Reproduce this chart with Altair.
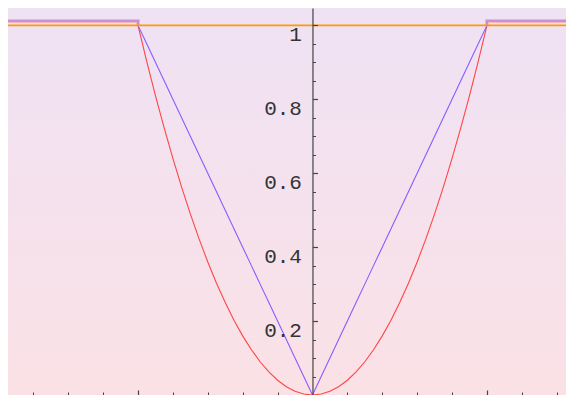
import altair as alt
import pandas as pd

# ---- data ----
x_domain = [-1.745, 1.453]
y_domain = [0.0, 1.047]

curve_x = [-1.0, -0.95, -0.9, -0.85, -0.8, -0.75, -0.7, -0.65, -0.6, -0.55, -0.5,
           -0.45, -0.4, -0.35, -0.3, -0.25, -0.2, -0.15, -0.1, -0.05, 0.0,
           0.05, 0.1, 0.15, 0.2, 0.25, 0.3, 0.35, 0.4, 0.45, 0.5,
           0.55, 0.6, 0.65, 0.7, 0.75, 0.8, 0.85, 0.9, 0.95, 1.0]
red_y = [1.0, 0.9025, 0.81, 0.7225, 0.64, 0.5625, 0.49, 0.4225, 0.36, 0.3025, 0.25,
         0.2025, 0.16, 0.1225, 0.09, 0.0625, 0.04, 0.0225, 0.01, 0.0025, 0.0,
         0.0025, 0.01, 0.0225, 0.04, 0.0625, 0.09, 0.1225, 0.16, 0.2025, 0.25,
         0.3025, 0.36, 0.4225, 0.49, 0.5625, 0.64, 0.7225, 0.81, 0.9025, 1.0]
blue_y = [1.0, 0.95, 0.9, 0.85, 0.8, 0.75, 0.7, 0.65, 0.6, 0.55, 0.5,
          0.45, 0.4, 0.35, 0.3, 0.25, 0.2, 0.15, 0.1, 0.05, 0.0,
          0.05, 0.1, 0.15, 0.2, 0.25, 0.3, 0.35, 0.4, 0.45, 0.5,
          0.55, 0.6, 0.65, 0.7, 0.75, 0.8, 0.85, 0.9, 0.95, 1.0]
plateau_left_x = [-1.745, -1.0, -1.0]
plateau_right_x = [1.0, 1.0, 1.453]
plateau_left_y = [1.012, 1.012, 1.0]
plateau_right_y = [1.0, 1.012, 1.012]
orange_x = [-1.745, 1.453]
orange_y = [1.0, 1.0]

x_major_ticks = [-1.0, 1.0]
x_minor_ticks = [-1.6, -1.4, -1.2, -0.8, -0.6, -0.4, -0.2, 0.2, 0.4, 0.6, 0.8, 1.2, 1.4]
y_major_ticks = [0.2, 0.4, 0.6, 0.8, 1.0]
y_minor_ticks = [0.05, 0.1, 0.15, 0.25, 0.3, 0.35, 0.45, 0.5, 0.55, 0.65, 0.7, 0.75,
                 0.85, 0.9, 0.95]

W, H = 558, 387
axis_color = "#444444"
y_axis_offset = -(W * (x_domain[1] - 0) / (x_domain[1] - x_domain[0]))

curves = pd.DataFrame({"x": curve_x, "red": red_y, "blue": blue_y})
plat = pd.DataFrame({
    "x": plateau_left_x + plateau_right_x,
    "y": plateau_left_y + plateau_right_y,
    "side": ["L"] * 3 + ["R"] * 3,
    "o": list(range(6)),
})
orange = pd.DataFrame({"x": orange_x, "y": orange_y})
bg = pd.DataFrame({"x": [x_domain[0]], "x2": [x_domain[1]], "y": [y_domain[0]], "y2": [y_domain[1]]})

xs = alt.Scale(domain=x_domain, nice=False, zero=False)
ys = alt.Scale(domain=y_domain, nice=False, zero=False)

grad = alt.Gradient(
    gradient="linear",
    stops=[alt.GradientStop(color="#EFE2F4", offset=0),
           alt.GradientStop(color="#FBE1E6", offset=1)],
    x1=0, x2=0, y1=0, y2=1,
)

background = alt.Chart(bg).mark_rect(color=grad).encode(
    x=alt.X("x:Q", scale=xs, axis=alt.Axis(
        orient="top", offset=-H, values=x_major_ticks, tickSize=5, labels=False,
        title=None, grid=False, domainColor=axis_color, tickColor=axis_color,
        domainWidth=1.2, tickWidth=1.2, zindex=2)),
    x2="x2:Q",
    y=alt.Y("y:Q", scale=ys, axis=alt.Axis(
        orient="right", offset=y_axis_offset,
        values=y_major_ticks, tickSize=5, title=None, grid=False,
        domainColor=axis_color, tickColor=axis_color, domainWidth=1.2, tickWidth=1.2,
        labelAlign="right", labelBaseline="top", labelPadding=-16, labelOffset=-2,
        labelFont="Liberation Mono", labelFontSize=21, labelColor="#333333",
        labelExpr="datum.value == 1 ? '1' : format(datum.value, '.1f')", zindex=2)),
    y2="y2:Q",
)

minor_axes = alt.Chart(orange).mark_line(color="#FF9900", strokeWidth=1.6).encode(
    x=alt.X("x:Q", scale=xs, axis=alt.Axis(
        orient="top", offset=-H, values=x_minor_ticks, tickSize=3, labels=False,
        domain=False, title=None, grid=False, tickColor=axis_color, tickWidth=1,
        zindex=2)),
    y=alt.Y("y:Q", scale=ys, axis=alt.Axis(
        orient="right", offset=y_axis_offset,
        values=y_minor_ticks, tickSize=3, labels=False, domain=False, title=None,
        grid=False, tickColor=axis_color, tickWidth=1, zindex=2)),
)

red_plat = alt.Chart(plat).mark_line(color="#FF6060", strokeWidth=4, opacity=0.35).encode(
    x=alt.X("x:Q", scale=xs, axis=None), y=alt.Y("y:Q", scale=ys, axis=None),
    detail="side:N", order="o:Q")
blue_plat = alt.Chart(plat).mark_line(color="#8A5CFF", strokeWidth=1.6, opacity=0.55).encode(
    x=alt.X("x:Q", scale=xs, axis=None), y=alt.Y("y:Q", scale=ys, axis=None),
    detail="side:N", order="o:Q")

red_line = alt.Chart(curves).mark_line(color="#FF4545", strokeWidth=1.1).encode(
    x=alt.X("x:Q", scale=xs, axis=None), y=alt.Y("red:Q", scale=ys, axis=None))
blue_line = alt.Chart(curves).mark_line(color="#8A5CFF", strokeWidth=1.1).encode(
    x=alt.X("x:Q", scale=xs, axis=None), y=alt.Y("blue:Q", scale=ys, axis=None))

chart = alt.layer(
    background, red_plat, blue_plat, red_line, blue_line, minor_axes
).resolve_axis(x="independent", y="independent").properties(
    width=W, height=H, padding=0, background="white",
    autosize=alt.AutoSizeParams(type="none")
).configure_view(stroke=None)

chart.save("out.html", embed_options={"renderer": "svg", "actions": False})
